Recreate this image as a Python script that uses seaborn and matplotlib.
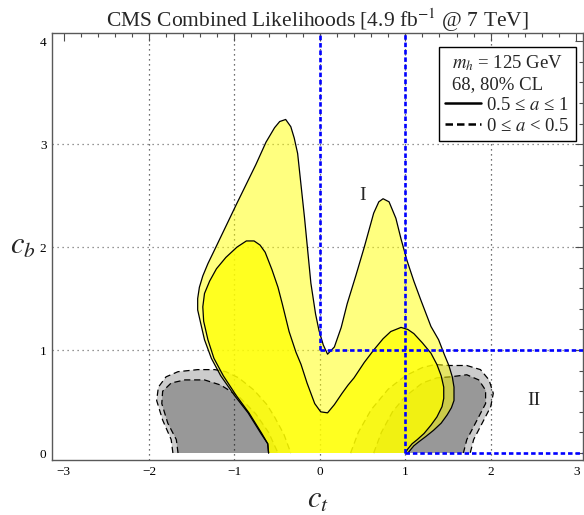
import matplotlib
matplotlib.use('Agg')
import matplotlib.pyplot as plt
import seaborn as sns
from matplotlib.lines import Line2D
from matplotlib.ticker import MultipleLocator

sns.set_theme(style='white')
plt.rcParams['font.family'] = ['Liberation Serif', 'DejaVu Serif']
plt.rcParams['mathtext.fontset'] = 'stix'
plt.rcParams['axes.unicode_minus'] = True

# ---------------- data ----------------
# 80% CL, 0.5 <= a <= 1 (light yellow, solid)
y80_ct = [-0.60, -0.61, -0.69, -0.84, -1.00, -1.16, -1.27, -1.35, -1.40, -1.43, -1.43,
          -1.41, -1.37, -1.31, -1.24, -0.98, -0.75, -0.63, -0.53, -0.47, -0.40, -0.34,
          -0.30, -0.26, -0.22, -0.18, -0.105, -0.05, -0.01, 0.04, 0.09, 0.17, 0.25, 0.32,
          0.42, 0.52, 0.63, 0.69, 0.74, 0.81, 0.89, 0.95, 1.02, 1.10, 1.18, 1.30, 1.39,
          1.46, 1.51, 1.55, 1.57, 1.57, 1.54, 1.49, 1.42, 1.33, 1.24, 1.16, 1.10, 1.06,
          1.03]
y80_cb = [0.00, 0.09, 0.19, 0.39, 0.56, 0.75, 0.92, 1.10, 1.28, 1.39, 1.50,
          1.61, 1.72, 1.84, 1.96, 2.41, 2.80, 3.02, 3.16, 3.22, 3.24, 3.17,
          3.06, 2.91, 2.60, 2.29, 1.65, 1.35, 1.19, 1.05, 0.96, 1.03, 1.22, 1.45,
          1.72, 2.00, 2.33, 2.44, 2.47, 2.44, 2.28, 2.08, 1.87, 1.67, 1.49, 1.23, 1.10,
          0.95, 0.85, 0.74, 0.64, 0.51, 0.44, 0.37, 0.29, 0.22, 0.16, 0.11, 0.07, 0.03,
          0.00]

# 68% CL, 0.5 <= a <= 1 (bright yellow, solid)
y68_ct = [-0.60, -0.61, -0.68, -0.83, -0.98, -1.13, -1.24, -1.31, -1.36, -1.37, -1.35,
          -1.29, -1.21, -1.10, -0.97, -0.86, -0.77, -0.70, -0.64, -0.56, -0.49, -0.44,
          -0.36, -0.28, -0.22, -0.15, -0.105, -0.06, 0.01, 0.09, 0.17, 0.26, 0.33,
          0.40, 0.52, 0.63, 0.74, 0.83, 0.95, 1.03, 1.10, 1.20, 1.30, 1.37, 1.42,
          1.45, 1.45, 1.43, 1.37, 1.30, 1.22, 1.14, 1.08, 1.03, 1.00]
y68_cb = [0.00, 0.09, 0.19, 0.39, 0.56, 0.75, 0.92, 1.10, 1.28, 1.42, 1.55,
          1.67, 1.79, 1.90, 2.00, 2.06, 2.06, 2.02, 1.95, 1.78, 1.61, 1.45,
          1.18, 0.98, 0.86, 0.68, 0.58, 0.48, 0.40, 0.39, 0.47, 0.58, 0.66,
          0.73, 0.88, 1.00, 1.11, 1.18, 1.22, 1.20, 1.16, 1.07, 0.97, 0.86, 0.75,
          0.64, 0.53, 0.45, 0.35, 0.27, 0.19, 0.13, 0.09, 0.04, 0.00]

# 80% CL, 0 <= a < 0.5 (light grey, dashed) - left and right lobes
g80L_ct = [-1.72, -1.74, -1.84, -1.91, -1.89, -1.80, -1.66, -1.43, -1.23, -1.10,
           -0.95, -0.77, -0.62, -0.53, -0.42, -0.34]
g80L_cb = [0.00, 0.13, 0.32, 0.51, 0.64, 0.74, 0.79, 0.81, 0.81, 0.79,
           0.73, 0.61, 0.47, 0.35, 0.18, 0.00]
g80R_ct = [0.36, 0.45, 0.60, 0.80, 1.00, 1.20, 1.35, 1.51, 1.72, 1.88, 1.98,
           2.03, 2.00, 1.90, 1.80, 1.76]
g80R_cb = [0.00, 0.20, 0.42, 0.62, 0.75, 0.83, 0.86, 0.85, 0.85, 0.81, 0.71,
           0.58, 0.45, 0.29, 0.13, 0.00]

# 68% CL, 0 <= a < 0.5 (dark grey, dashed)
g68L_ct = [-1.66, -1.68, -1.78, -1.85, -1.84, -1.74, -1.58, -1.35, -1.16, -0.95,
           -0.75, -0.60, -0.49]
g68L_cb = [0.00, 0.13, 0.29, 0.48, 0.60, 0.68, 0.71, 0.71, 0.66, 0.55,
           0.38, 0.20, 0.00]
g68R_ct = [0.63, 0.72, 0.85, 1.00, 1.20, 1.37, 1.53, 1.72, 1.86, 1.94, 1.94,
           1.84, 1.72, 1.68]
g68R_cb = [0.00, 0.20, 0.40, 0.55, 0.68, 0.73, 0.74, 0.76, 0.71, 0.61, 0.48,
           0.32, 0.13, 0.00]

# boundary lines of the regions I / II (blue dotted)
blue_v1_ct, blue_v1_cb = [0, 0], [1, 4.5]
blue_h1_ct, blue_h1_cb = [0, 3.5], [1, 1]
blue_v2_ct, blue_v2_cb = [1, 1], [0, 4.5]
blue_h2_ct, blue_h2_cb = [1, 3.5], [0, 0]

region_labels = ['I', 'II']
region_ct = [0.50, 2.50]
region_cb = [2.50, 0.51]

x_ticks = [-3, -2, -1, 0, 1, 2, 3]
y_ticks = [0, 1, 2, 3, 4]
x_grid = [-2, -1, 0, 1, 2]
y_grid = [1, 2, 3]

# ---------------- figure ----------------
W, H = 584, 515
fig = plt.figure(figsize=(W / 100, H / 100), dpi=100)
ax = fig.add_axes([52 / W, (H - 460) / H, (583 - 52) / W, (460 - 33) / H])
ax.set_facecolor('white')

for gx in x_grid:
    ax.axvline(gx, color='0.25', ls=(0, (1, 3)), lw=0.9, zorder=0.5)
for gy in y_grid:
    ax.axhline(gy, color='0.45', ls=(0, (1, 3)), lw=0.9, zorder=0.5)

def outline(xs, ys, ls, lw, color, z):
    sns.lineplot(x=xs, y=ys, sort=False, estimator=None, ax=ax, color=color,
                 lw=lw, linestyle=ls, zorder=z, legend=False)

# grey regions
for xs, ys in [(g80L_ct, g80L_cb), (g80R_ct, g80R_cb)]:
    ax.fill(xs, ys, color='black', alpha=0.2, lw=0, zorder=1)
for xs, ys in [(g68L_ct, g68L_cb), (g68R_ct, g68R_cb)]:
    ax.fill(xs, ys, color='black', alpha=0.25, lw=0, zorder=1.1)
for xs, ys in [(g80L_ct, g80L_cb), (g80R_ct, g80R_cb), (g68L_ct, g68L_cb), (g68R_ct, g68R_cb)]:
    outline(xs, ys, (0, (5, 3)), 0.9, 'black', 1.5)

# yellow regions
ax.fill(y80_ct, y80_cb, color=(1, 1, 0), alpha=0.5, lw=0, zorder=2)
ax.fill(y68_ct, y68_cb, color=(1, 1, 0), alpha=0.75, lw=0, zorder=2.1)
outline(y80_ct, y80_cb, '-', 0.9, 'black', 2.5)
outline(y68_ct, y68_cb, '-', 0.9, 'black', 2.5)

# blue boundaries
for xs, ys in [(blue_v1_ct, blue_v1_cb), (blue_h1_ct, blue_h1_cb),
               (blue_v2_ct, blue_v2_cb), (blue_h2_ct, blue_h2_cb)]:
    ax.plot(xs, ys, color=(0, 0, 1), lw=1.9, ls=(0, (1.7, 1.1)), zorder=3,
            solid_capstyle='butt', dash_capstyle='butt')

for lab, xx, yy in zip(region_labels, region_ct, region_cb):
    ax.text(xx, yy, lab, fontsize=14, ha='center', va='center', zorder=4)

ax.set_xlim(-3.135, 3.08)
ax.set_ylim(-0.068, 4.08)
ax.set_xticks(x_ticks)
ax.set_yticks(y_ticks)
ax.xaxis.set_minor_locator(MultipleLocator(0.2))
ax.yaxis.set_minor_locator(MultipleLocator(0.2))
ax.tick_params(which='both', direction='in', top=True, right=True,
               color='0.3', width=0.8, labelsize=9.5, labelcolor='black', pad=4)
ax.tick_params(which='major', length=6)
ax.tick_params(which='minor', length=3)
for sp in ax.spines.values():
    sp.set_color('0.35')
    sp.set_linewidth(1.0)

ax.set_xlabel(r'$c_t$', fontsize=22, labelpad=6)
ax.set_ylabel(r'$c_b$', fontsize=22, rotation=0, labelpad=12, va='center')
ax.set_title(r'CMS Combined Likelihoods [4.9 fb$^{-1}$ @ 7 TeV]', fontsize=15.5, pad=4)

handles = [Line2D([], [], color='black', lw=1.8, ls='-'),
           Line2D([], [], color='black', lw=1.8, ls=(0, (3, 1.6)))]
labels = ['0.5 ≤ $a$ ≤ 1', '0 ≤ $a$ < 0.5']
leg = ax.legend(handles, labels, title='$m_h$ = 125 GeV\n68, 80% CL',
                loc='upper right', bbox_to_anchor=(0.987, 0.967),
                fontsize=13.5, title_fontsize=13.5, frameon=True, fancybox=False,
                edgecolor='black', framealpha=1, borderpad=0.35, labelspacing=0.2,
                handlelength=1.9, handletextpad=0.3, borderaxespad=0.0)
leg.get_frame().set_linewidth(1.0)
leg.set_zorder(5)

fig.savefig('out.png', dpi=100)
